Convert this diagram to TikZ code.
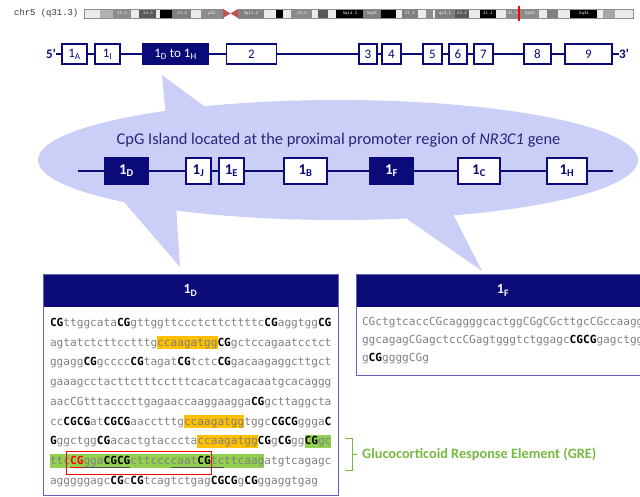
\documentclass[tikz,border=0pt]{standalone}
\usepackage{fontspec}
\setmainfont{Carlito}
\newfontfamily\seqfont{DejaVu Sans Mono}
\newfontfamily\chrfont{Liberation Mono}
\definecolor{ndark}{HTML}{0A0A78}
\definecolor{lav}{HTML}{CBCFF7}
\definecolor{seqgray}{HTML}{7F7F7F}
\definecolor{hlyellow}{HTML}{FFC000}
\definecolor{hlgreen}{HTML}{92D050}
\definecolor{grefg}{HTML}{77B843}
\definecolor{boxline}{HTML}{6565B5}
\definecolor{titleblue}{HTML}{26267A}
\definecolor{centro}{HTML}{C0504D}
\newcommand{\bcg}[1]{\textcolor{black}{\bfseries #1}}
\newcommand{\rcg}[1]{\textcolor{red}{\bfseries #1}}
\newcommand{\hlbox}[4]{\fill[#4] ({50+#2*6.7},{#1-6.5}) rectangle ({50+(#2+#3)*6.7},{#1+6.5});}
\tikzset{
  seq/.style={anchor=base west, inner sep=0pt, outer sep=0pt, text=seqgray, font=\seqfont\fontsize{11.13}{13}\selectfont},
  exT/.style={draw=ndark, line width=1.3pt, fill=white, minimum height=20pt, inner sep=0pt, text=ndark, font=\fontsize{13}{15}\selectfont},
  exTf/.style={exT, fill=ndark, text=white},
  exI/.style={draw=ndark, line width=1.3pt, fill=white, minimum height=26pt, inner sep=0pt, text=ndark, font=\bfseries\fontsize{15}{17}\selectfont},
  exIf/.style={exI, fill=ndark, text=white},
  hdr/.style={fill=ndark, minimum height=33pt, inner sep=0pt, text=white, font=\bfseries\fontsize{14}{16}\selectfont},
  geneline/.style={draw=ndark, line width=1.6pt},
  primelbl/.style={text=ndark, inner sep=0pt, font=\bfseries\fontsize{13}{15}\selectfont},
  bandlbl/.style={text=white, inner sep=0pt, font=\chrfont\fontsize{4}{4}\selectfont},
}
\begin{document}
\begin{tikzpicture}[x=1pt,y=-1pt]
\useasboundingbox (0,0) rectangle (640,497);
\clip (0,0) rectangle (640,497);
% chromosome ideogram
\node[anchor=west, inner sep=0pt, text=black!80, font=\chrfont\fontsize{8.9}{10}\selectfont] (chr) at (14,13.5) {chr5 (q31.3)};
\foreach \a/\b/\c in {84/100/black!8,100/113/black!30,113/131/black!45,131/139/black!8,139/156/black!65,156/160/black!8,160/172/black,172/191/black!50,191/201/black!8,201/223/black!45,238/264/black!50,264/276/black!8,276/283/black,283/291/black!8,291/312/black!45,312/318/black!8,318/328/black!65,328/336/black!8,336/363/black,363/381/black!50,381/396/black,396/402/black!8,402/418/black!50,418/426/black!8,426/433/black!45,433/435/black!8,435/455/black!50,455/469/black!65,469/480/black!8,480/496/black,496/506/black!8,506/521/black!45,521/539/black!45,539/547/black!8,547/558/black!50,558/570/black!8,570/597/black,597/603/black!8,603/615/black!35,615/633/black!8}
  \fill[\c] (\a,9) rectangle (\b,18);
\draw[black!45, line width=0.5pt] (84,9) rectangle (223,18);
\draw[black!45, line width=0.5pt] (238,9) rectangle (633,18);
\fill[centro] (223,9) -- (230.5,13.5) -- (223,18) -- cycle;
\fill[centro] (238,9) -- (230.5,13.5) -- (238,18) -- cycle;
\draw[red, line width=1.2pt] (519,6) -- (519,21);
\foreach \x/\t in {122/15.2,148/14.3,182/13.3,212/p12,251/5q11.2,302/13.2,350/5q14.3,372/5q15,410/21.3,445/q23.1,462/23.2,488/31.1,513/31.3,530/5q32,584/5q34}
  \node[bandlbl] (bl\x) at (\x,13.5) {\t};
% gene structure
\node[primelbl] (p5) at (51,54) {5’};
\node[primelbl] (p3) at (624,54) {3’};
\draw[geneline] (p5.east) -- (p3.west);
\node[exT, minimum width=25pt] (t1A) at (74.5,54) {1\textsubscript{A}};
\node[exT, minimum width=25pt] (t1I) at (107.5,54) {1\textsubscript{I}};
\node[exTf, minimum width=65pt] (t1DH) at (175.5,54) {1\textsubscript{D} to 1\textsubscript{H}};
\node[exT, minimum width=50pt] (t2) at (251.5,54) {2};
\node[exT, minimum width=18pt] (t3) at (368,54) {3};
\node[exT, minimum width=19pt] (t4) at (391.5,54) {4};
\node[exT, minimum width=19pt] (t5) at (432.5,54) {5};
\node[exT, minimum width=18pt] (t6) at (458,54) {6};
\node[exT, minimum width=19pt] (t7) at (483.5,54) {7};
\node[exT, minimum width=27pt] (t8) at (537.5,54) {8};
\node[exT, minimum width=47pt] (t9) at (588.5,54) {9};
% callout
\fill[lav] (338,160) ellipse [x radius=300, y radius=60];
\fill[lav] (162,75) -- (166,118) -- (212,112) -- cycle;
\fill[lav] (118,195) -- (180,267) -- (176,205) -- cycle;
\fill[lav] (394,210) -- (482,271) -- (451,210) -- cycle;
\node[text=titleblue, inner sep=0pt, font=\fontsize{16.4}{18}\selectfont] (title) at (338.5,140) {CpG Island located at the proximal promoter region of \textit{NR3C1} gene};
\coordinate (cl) at (78,171);
\coordinate (cr) at (613,171);
\draw[geneline] (cl) -- (cr);
\node[exIf, minimum width=43pt] (i1D) at (126.5,171) {1\textsubscript{D}};
\node[exI, minimum width=25pt] (i1J) at (198.5,171) {1\textsubscript{J}};
\node[exI, minimum width=25pt] (i1E) at (231.5,171) {1\textsubscript{E}};
\node[exI, minimum width=43pt] (i1B) at (305.5,171) {1\textsubscript{B}};
\node[exIf, minimum width=43pt] (i1F) at (391.5,171) {1\textsubscript{F}};
\node[exI, minimum width=42pt] (i1C) at (479,171) {1\textsubscript{C}};
\node[exI, minimum width=40pt] (i1H) at (567,171) {1\textsubscript{H}};
% 1D sequence box
\node[hdr, minimum width=295pt] (h1D) at (190.5,290.5) {1\textsubscript{D}};
\draw[boxline, line width=0.9pt] (43,274) rectangle (338,495);
\hlbox{342.7}{16}{9}{hlyellow}
\hlbox{421.5}{20}{9}{hlyellow}
\hlbox{441.2}{22}{9}{hlyellow}
\hlbox{441.2}{38}{4}{hlgreen}
\fill[hlgreen] ({50},{460.9-7}) rectangle ({50+32*6.7},{460.9+7});
\node[seq] (d1) at (50,326.5) {\bcg{CG}ttggcata\bcg{CG}gttggttccctcttcttttc\bcg{CG}aggtgg\bcg{CG}};
\node[seq] (d2) at (50,346.2) {agtatctcttcctttgccaagatgg\bcg{CG}gctccagaatcctct};
\node[seq] (d3) at (50,365.9) {ggagg\bcg{CG}gcccc\bcg{CG}tagat\bcg{CG}tctc\bcg{CG}gacaagaggcttgct};
\node[seq] (d4) at (50,385.6) {gaaagcctacttctttcctttcacatcagacaatgcacaggg};
\node[seq] (d5) at (50,405.3) {aacCGtttacccttgagaaccaaggaagga\bcg{CG}gcttaggcta};
\node[seq] (d6) at (50,425.0) {cc\bcg{CGCG}at\bcg{CGCG}aacctttgccaagatggtggc\bcg{CGCG}ggga\bcg{C}};
\node[seq] (d7) at (50,444.7) {\bcg{G}ggctgg\bcg{CG}acactgtaccctaccaagatgg\bcg{CG}g\bcg{CG}gg\bcg{CG}gc};
\node[seq] (d8) at (50,464.4) {ttc\rcg{CG}gga\bcg{CGCG}cttccccaat\bcg{CG}tcttcaagatgtcagagc};
\node[seq] (d9) at (50,484.1) {agggggagc\bcg{CG}c\bcg{CG}tcagtctgag\bcg{CGCG}g\bcg{CG}ggaggtgag};
\draw[red, line width=0.8pt] ({50+3*6.7},467) -- ({50+5*6.7},467);
\draw[black!70, line width=0.8pt] ({50+5*6.7},467) -- ({50+12*6.7},467);
\draw[black!70, line width=0.8pt] ({50+18*6.7},467) -- ({50+26*6.7},467);
\draw[red, line width=1pt] (66,451.5) rectangle (211,474.5);
% GRE label
\draw[grefg, line width=1pt] (345,438) -- (352,438) -- (352,470) -- (345,470);
\draw[grefg, line width=1pt] (352,454) -- (357,454);
\node[anchor=west, inner sep=0pt, text=grefg, font=\bfseries\fontsize{14.3}{16}\selectfont] (gre) at (362,454) {Glucocorticoid Response Element (GRE)};
% 1F sequence box
\node[hdr, minimum width=294pt] (h1F) at (503,290.5) {1\textsubscript{F}};
\draw[boxline, line width=0.9pt] (356,274) rectangle (650,375);
\node[seq] (f1) at (362,325.5) {CGctgtcaccCGcaggggcactggCGgCGcttgcCGccaagg};
\node[seq] (f2) at (362,343.5) {ggcagagCGagctccCGagtgggtctggagc\bcg{CGCG}gagctgg};
\node[seq] (f3) at (362,361.5) {g\bcg{CG}ggggCGg};
\end{tikzpicture}
\end{document}
